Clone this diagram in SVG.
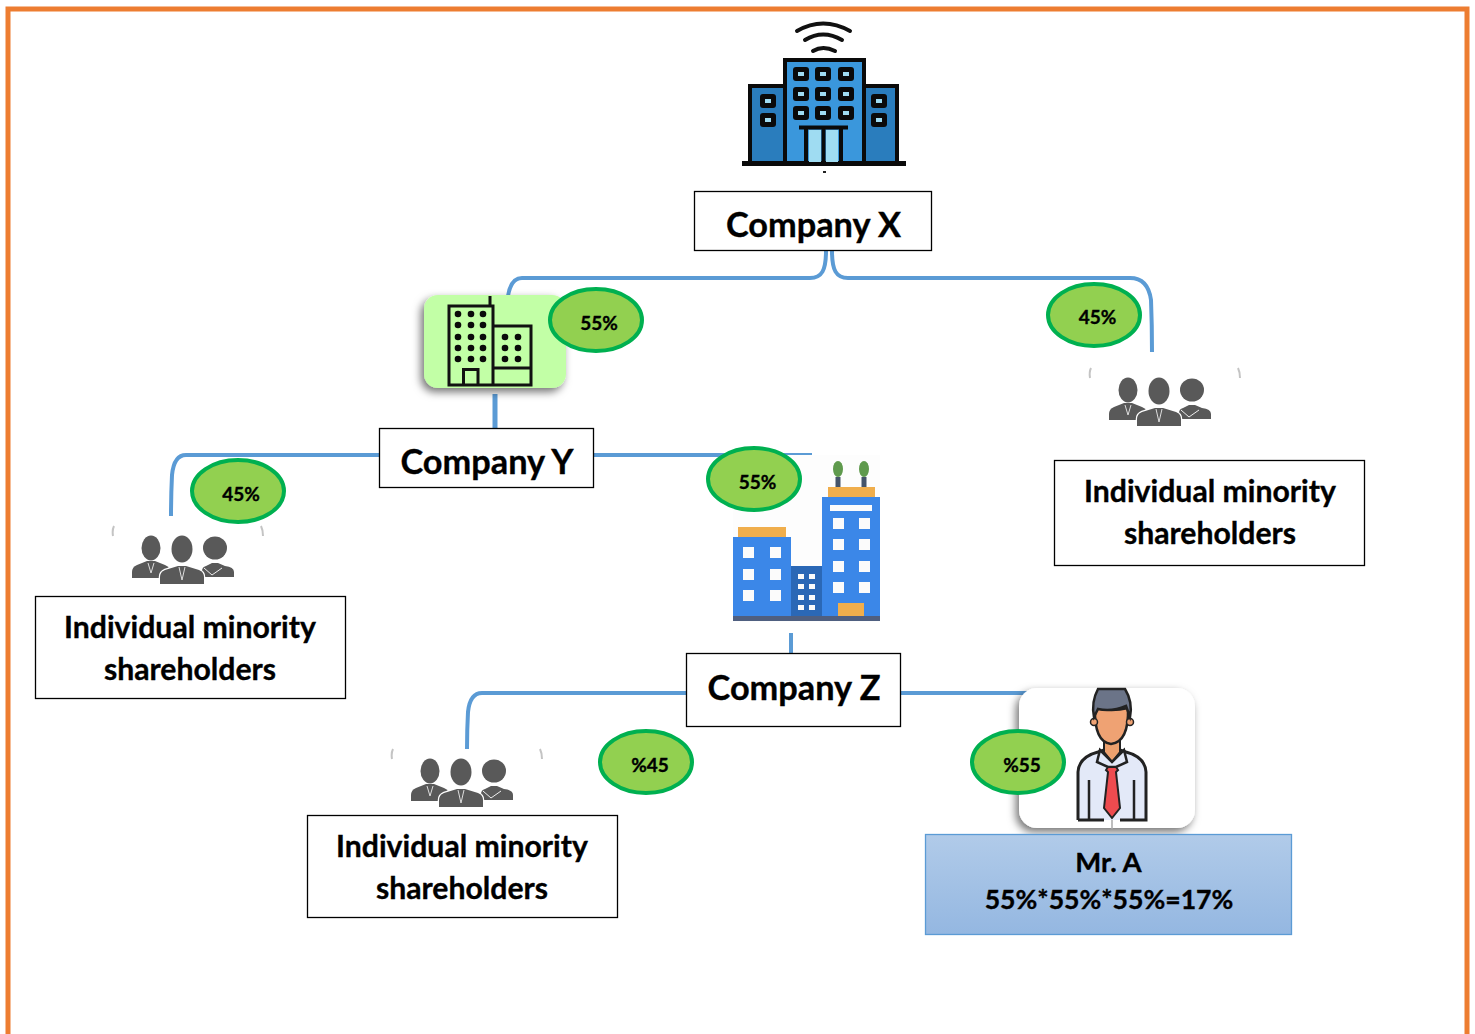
<svg xmlns="http://www.w3.org/2000/svg" width="1475" height="1034" viewBox="0 0 1475 1034">
<style>
.box{fill:#fff;stroke:#000;stroke-width:1.3}
.conn{fill:none;stroke:#5B9BD5;stroke-width:4;stroke-linecap:butt}
.pct{fill:#92D050;stroke:#00B050;stroke-width:4}
text{font-family:"Lato","Liberation Sans",sans-serif;font-weight:700;fill:#000;stroke:#000;stroke-width:.35;text-anchor:middle}
.t1{font-size:34.300px}
.t2{font-size:30.200px}
.t3{font-size:19px}
.t4{font-size:26.600px}
.t5{font-size:27.500px}
.ink{fill:none;stroke:#0a0a0a;stroke-width:3}
.win{fill:#0a0a0a}
.wl{fill:#9fdcf2}
.zw{fill:#fbfbfb}
.dot{fill:#0a0a0a}
.pp{fill:#595959}
</style>
<defs>
<filter id="sh" x="-20%" y="-20%" width="140%" height="140%"><feDropShadow dx="-3" dy="4" stdDeviation="4.500" flood-color="#000" flood-opacity=".55"/></filter>
<linearGradient id="mr" x1="0" y1="0" x2="0" y2="1"><stop offset="0" stop-color="#B1CBE9"/><stop offset="1" stop-color="#94B7E1"/></linearGradient>
<g id="people">
<path d="M1091,368Q1089,372 1090,378M1238,368Q1240,372 1240,378" fill="none" stroke="#c4c4c4" stroke-width="2"/>
<ellipse class="pp" cx="1128" cy="390" rx="9.500" ry="12.500"/>
<path class="pp" d="M1109,420v-6q0,-5 5,-7l10,-4h8l10,4q5,2 5,7v6z"/>
<ellipse class="pp" cx="1192" cy="390" rx="12" ry="11.500"/>
<path class="pp" d="M1179,419v-6q0,-4 4,-5l6,-3h6l7,3q9,1 9,6v5z"/>
<ellipse class="pp" cx="1159" cy="391" rx="10.500" ry="13.500"/>
<path class="pp" stroke="#fff" stroke-width="2.500" paint-order="stroke" d="M1137,426v-7q0,-5 5,-7l13,-4h8l13,4q5,2 5,7v7z"/>
<path d="M1181,410l8,7 10,-7" fill="none" stroke="#eee" stroke-width="1"/>
<path d="M1125,405l3,10 3,-10M1156,409l3,13 3,-13" fill="none" stroke="#ddd" stroke-width="1"/>
</g>
</defs>
<rect width="1475" height="1034" fill="#fff"/>
<path d="M8,1034V9H1467V1034" fill="none" stroke="#ED7D31" stroke-width="5"/>

<g id="connectors">
<path class="conn" d="M826,251C826,270 822,278 810,278H522Q511,278 508,296"/>
<path class="conn" d="M832,251C832,270 836,278 848,278H1130Q1148,278 1151,300Q1152,325 1152,352"/>
<path class="conn" d="M495,394V428" style="stroke-width:5"/>
<path class="conn" d="M379,455H186Q174,455 172,475Q171,495 171,516"/>
<path class="conn" d="M594,455H812"/>
<path class="conn" d="M791,633V653"/>
<path class="conn" d="M686,693H482Q470,693 468,712Q467,730 467,749"/>
<path class="conn" d="M901,693H1030"/>
</g>

<g id="company-x-icon">
<path d="M786,60H864V162H786Z" fill="#3A97DC"/>
<path d="M750,87H783V162H750ZM865,87H897V162H865Z" fill="#2A7DBD"/>
<path class="ink" d="M785,162V60H864V162M785,86H750V162M864,86H897V162" style="stroke-width:4"/>
<path d="M742,163.500H906" stroke="#0a0a0a" stroke-width="5"/>
<path d="M797,31Q823,16 850,31M805,40Q823,29 842,40M813,51Q823,45 835,51" fill="none" stroke="#111" stroke-width="4" stroke-linecap="round"/>
<g class="win">
<rect x="793" y="67" width="16" height="14" rx="3"/><rect x="815" y="67" width="16" height="14" rx="3"/><rect x="838" y="67" width="16" height="14" rx="3"/>
<rect x="793" y="87" width="16" height="14" rx="3"/><rect x="815" y="87" width="16" height="14" rx="3"/><rect x="838" y="87" width="16" height="14" rx="3"/>
<rect x="793" y="106" width="16" height="14" rx="3"/><rect x="815" y="106" width="16" height="14" rx="3"/><rect x="838" y="106" width="16" height="14" rx="3"/>
<rect x="760" y="94" width="16" height="14" rx="3"/><rect x="760" y="113" width="16" height="14" rx="3"/>
<rect x="871" y="94" width="16" height="14" rx="3"/><rect x="871" y="113" width="16" height="14" rx="3"/>
</g>
<g class="wl">
<rect x="798" y="72" width="6" height="4"/><rect x="820" y="72" width="6" height="4"/><rect x="843" y="72" width="6" height="4"/>
<rect x="798" y="92" width="6" height="4"/><rect x="820" y="92" width="6" height="4"/><rect x="843" y="92" width="6" height="4"/>
<rect x="798" y="111" width="6" height="4"/><rect x="820" y="111" width="6" height="4"/><rect x="843" y="111" width="6" height="4"/>
<rect x="765" y="99" width="6" height="4"/><rect x="765" y="118" width="6" height="4"/>
<rect x="876" y="99" width="6" height="4"/><rect x="876" y="118" width="6" height="4"/>
<rect x="809" y="130" width="12" height="32"/><rect x="826" y="130" width="12" height="32"/>
</g>
<path class="ink" d="M799,127.500H848M806,128V162M823.500,128V162M841,128V162" style="stroke-width:4"/>
<rect x="823" y="171" width="3" height="2" fill="#222"/>
</g>
<g id="company-x"><rect class="box" x="694.500" y="191.500" width="237" height="59"/><text class="t1" x="813.500" y="237">Company X</text></g>

<g id="company-y-icon">
<rect x="424" y="295" width="142" height="93" rx="14" fill="#C2FFA6" filter="url(#sh)"/>
<path d="M449,385V306H493V385ZM493,326H531V385H449M493,368H531M463.500,385V369.500H478V385M490,306V296" fill="none" stroke="#111" stroke-width="3"/>
<g class="dot">
<circle cx="458" cy="314" r="3.300"/><circle cx="471" cy="314" r="3.300"/><circle cx="483" cy="314" r="3.300"/>
<circle cx="458" cy="325" r="3.300"/><circle cx="471" cy="325" r="3.300"/><circle cx="483" cy="325" r="3.300"/>
<circle cx="458" cy="337" r="3.300"/><circle cx="471" cy="337" r="3.300"/><circle cx="483" cy="337" r="3.300"/>
<circle cx="458" cy="348" r="3.300"/><circle cx="471" cy="348" r="3.300"/><circle cx="483" cy="348" r="3.300"/>
<circle cx="458" cy="359" r="3.300"/><circle cx="471" cy="359" r="3.300"/><circle cx="483" cy="359" r="3.300"/>
<circle cx="505" cy="337" r="3.300"/><circle cx="518" cy="337" r="3.300"/>
<circle cx="505" cy="348" r="3.300"/><circle cx="518" cy="348" r="3.300"/>
<circle cx="505" cy="359" r="3.300"/><circle cx="518" cy="359" r="3.300"/>
</g>
</g>
<g id="pct-x-y"><ellipse class="pct" cx="596" cy="320" rx="46" ry="31"/><text class="t3" x="599" y="330">55%</text></g>
<g id="pct-x-min"><ellipse class="pct" cx="1094" cy="315" rx="46" ry="31"/><text class="t3" x="1097.500" y="324">45%</text></g>
<g id="company-y"><rect class="box" x="379.500" y="428.500" width="214" height="59"/><text class="t1" x="487" y="474">Company Y</text></g>

<g id="minority-1-icon"><use href="#people"/></g>
<g id="minority-1"><rect class="box" x="1054.500" y="460.500" width="310" height="105"/><text class="t2" x="1210" y="502">Individual minority</text><text class="t2" x="1210" y="544">shareholders</text></g>

<g id="pct-y-min"><ellipse class="pct" cx="238" cy="491" rx="46" ry="31"/><text class="t3" x="241" y="501">45%</text></g>
<g id="minority-2-icon"><use href="#people" x="-977" y="158"/></g>
<g id="minority-2"><rect class="box" x="35.500" y="596.500" width="310" height="102"/><text class="t2" x="190" y="638">Individual minority</text><text class="t2" x="190" y="680">shareholders</text></g>

<g id="company-z-icon">
<rect x="733" y="455" width="147" height="167" fill="#fdfdfd"/>
<rect x="738" y="527" width="48" height="10" fill="#F0AE4C"/>
<rect x="828" y="487" width="47" height="10" fill="#F0AE4C"/>
<rect x="733" y="537" width="58" height="80" fill="#3B87E8"/>
<rect x="791" y="566" width="31" height="51" fill="#2B68B6"/>
<rect x="822" y="497" width="58" height="120" fill="#3B87E8"/>
<rect x="733" y="616" width="147" height="5" fill="#4F5F80"/>
<rect x="835.500" y="477" width="5" height="10" fill="#44546A"/><rect x="861.500" y="477" width="5" height="10" fill="#44546A"/>
<ellipse cx="838" cy="469" rx="5" ry="8" fill="#5F9A4D"/><ellipse cx="864" cy="469" rx="5" ry="8" fill="#5F9A4D"/>
<rect x="838" y="603" width="26" height="13" fill="#F0AE4C"/>
<g class="zw">
<rect x="830" y="505" width="42" height="6"/>
<rect x="833" y="518" width="11" height="11"/><rect x="859" y="518" width="11" height="11"/>
<rect x="833" y="539" width="11" height="11"/><rect x="859" y="539" width="11" height="11"/>
<rect x="833" y="561" width="11" height="11"/><rect x="859" y="561" width="11" height="11"/>
<rect x="833" y="582" width="11" height="11"/><rect x="859" y="582" width="11" height="11"/>
<rect x="743" y="547" width="11" height="11"/><rect x="770" y="547" width="11" height="11"/>
<rect x="743" y="569" width="11" height="11"/><rect x="770" y="569" width="11" height="11"/>
<rect x="743" y="590" width="11" height="11"/><rect x="770" y="590" width="11" height="11"/>
<rect x="798" y="574" width="6" height="5"/><rect x="809" y="574" width="6" height="5"/>
<rect x="798" y="584" width="6" height="5"/><rect x="809" y="584" width="6" height="5"/>
<rect x="798" y="595" width="6" height="5"/><rect x="809" y="595" width="6" height="5"/>
<rect x="798" y="605" width="6" height="5"/><rect x="809" y="605" width="6" height="5"/>
</g>
</g>
<g id="pct-y-z"><ellipse class="pct" cx="754" cy="479" rx="46" ry="31"/><text class="t3" x="757.500" y="489">55%</text></g>
<g id="company-z"><rect class="box" x="686.500" y="653.500" width="214" height="73"/><text class="t1" x="794" y="700">Company Z</text></g>

<g id="pct-z-min"><ellipse class="pct" cx="646" cy="762" rx="46" ry="31"/><text class="t3" x="650" y="772">%45</text></g>
<g id="minority-3-icon"><use href="#people" x="-698" y="381"/></g>
<g id="minority-3"><rect class="box" x="307.500" y="815.500" width="310" height="102"/><text class="t2" x="462" y="857">Individual minority</text><text class="t2" x="462" y="899">shareholders</text></g>

<g id="mr-a-icon">
<rect x="1019" y="688" width="176" height="140" rx="18" fill="#fff" filter="url(#sh)"/>
<path d="M1112,820V829" stroke="#a9a9a9" stroke-width="1.500"/>
<path d="M1078,820V772Q1079,757 1098,752L1104,750H1120L1126,752Q1145,757 1146,772V820H1120M1104,820H1078Z" fill="#E3E9F8" stroke="#222" stroke-width="3"/>
<path d="M1089,780V820M1134,780V820" stroke="#222" stroke-width="2.500" fill="none"/>
<path d="M1104,735H1120V752L1112,762L1104,752Z" fill="#EDA06D" stroke="#222" stroke-width="2"/>
<path d="M1100,750L1112,762L1124,750L1127,762L1116,767H1108L1097,762Z" fill="#E3E9F8" stroke="#222" stroke-width="2.500"/>
<path d="M1108,767L1106,770L1108,772L1104,808L1112,818L1120,808L1116,772L1118,770L1116,767Z" fill="#EE4B4F" stroke="#222" stroke-width="2"/>
<path d="M1095,708Q1094,742 1111,744Q1129,742 1128,708Q1112,712 1095,708Z" fill="#EFA273" stroke="#222" stroke-width="2.500"/>
<circle cx="1094" cy="722" r="3.500" fill="#EFA273" stroke="#222" stroke-width="1.500"/><circle cx="1130" cy="722" r="3.500" fill="#EFA273" stroke="#222" stroke-width="1.500"/>
<path d="M1094,717Q1091,702 1098,689H1125Q1133,702 1130,717L1126,706Q1112,712 1098,709Z" fill="#6B7488" stroke="#222" stroke-width="2.500"/>
</g>
<g id="pct-z-a"><ellipse class="pct" cx="1018" cy="762" rx="46" ry="31"/><text class="t3" x="1022" y="772">%55</text></g>
<g id="mr-a"><rect x="925.500" y="834.500" width="366" height="100" fill="url(#mr)" stroke="#5B9BD5" stroke-width="1.300"/><text class="t5" x="1108.500" y="872">Mr. A</text><text class="t4" x="1109" y="909">55%*55%*55%=17%</text></g>
</svg>
